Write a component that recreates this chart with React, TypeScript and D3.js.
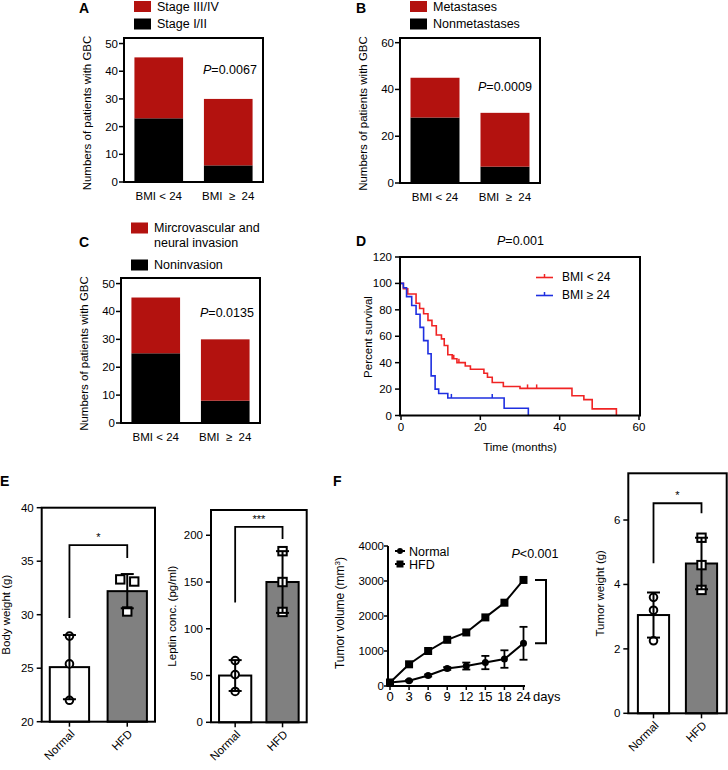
import React from 'react'
import * as d3 from 'd3'

const FONT = "'Liberation Sans', Arial, Helvetica, sans-serif"
const DARK_RED = '#b3120f'
const KM_RED = '#f02424'
const KM_BLUE = '#1e2fe0'

// A-C: patient counts by BMI group (stacked: lower = black, upper = red)
const bmiGroups = ['BMI < 24', 'BMI  \u2265  24']
const stageEarly = [23, 6]
const stageLate = [22, 24]
const nonMetastases = [28, 7]
const metastases = [17, 23]
const nonInvasion = [25, 8]
const invasion = [20, 22]

// D: Kaplan-Meier steps (months, percent survival)
const redTime = [0, 0.6, 1.7, 3.8, 4.7, 5.7, 6.8, 7.8, 8.9, 10.2, 10.9, 11.8, 12.9, 14.1, 16.2, 17.5, 20.9, 21.8, 23, 25.8, 30, 43.1, 46.1, 48.2, 54.3]
const redSurv = [100, 96, 92, 85, 81, 77, 72, 68, 61, 58, 53, 46, 43, 40, 37.5, 35, 32, 29, 25, 22, 20.5, 15, 12, 5, 0]
const redCensorTime = [13.3, 14.6, 31.9, 34.2]
const redCensorSurv = [43, 40, 20.5, 20.5]
const blueTime = [0, 0.6, 1.4, 2.7, 3.8, 4.8, 5.7, 6.8, 7.6, 8.6, 9.5, 11.8, 26, 32.1]
const blueSurv = [100, 96.7, 90, 83.3, 76.7, 66.7, 56.7, 46.7, 30, 20, 16.7, 13.3, 5.5, 0]
const blueCensorTime = [12.7, 23]
const blueCensorSurv = [13.3, 13.3]

// E, F right: bar + dots
const dietGroups = ['Normal', 'HFD']
const bodyWeightPts = [[28.0, 25.4, 22.0], [33.3, 33.1, 30.3]]
const bodyWeightMean = [25.1, 32.2]
const bodyWeightSd = [3.0, 1.6]
const leptinPts = [[66, 51, 33], [183, 150, 118]]
const leptinMean = [50, 150]
const leptinSd = [16.5, 33]
const tumorWeightPts = [[3.6, 3.2, 2.25], [5.45, 4.6, 3.83]]
const tumorWeightMean = [3.05, 4.65]
const tumorWeightSd = [0.7, 0.8]

// F left: tumor growth
const growthDays = ['0', '3', '6', '9', '12', '15', '18', '24']
const normalVolume = [100, 150, 300, 500, 570, 670, 770, 1220]
const normalVolumeSd = [0, 20, 30, 40, 100, 190, 250, 470]
const hfdVolume = [100, 620, 1000, 1320, 1530, 1960, 2380, 3030]

type Legend = { color: string; lines: string[]; top: number }

function PText({ x, y, rest, size = 12.5 }: { x: number; y: number; rest: string; size?: number }) {
  return (
    <text x={x} y={y} fontSize={size}>
      <tspan fontStyle="italic">P</tspan>
      {rest}
    </text>
  )
}

function YLabel({ x, y, children, size = 11.5 }: { x: number; y: number; children: React.ReactNode; size?: number }) {
  return (
    <text transform={`translate(${x},${y}) rotate(-90)`} textAnchor="middle" dy="0.35em" fontSize={size}>
      {children}
    </text>
  )
}

function StackPanel(p: {
  letter: string
  letterAt: [number, number]
  frame: [number, number, number, number]
  yMax: number
  yTicks: number[]
  lower: number[]
  upper: number[]
  legend: Legend[]
  pRest: string
  pAt: [number, number]
}) {
  const [x0, y0, x1, y1] = p.frame
  const x = d3.scaleBand<string>().domain(bmiGroups).range([x0, x1]).paddingInner(0.3).paddingOuter(0.15)
  const y = d3.scaleLinear().domain([0, p.yMax]).range([y1, y0])
  const rows = bmiGroups.map((g, i) => ({ g, lower: p.lower[i], upper: p.upper[i] }))
  const series = d3.stack<any>().keys(['lower', 'upper'])(rows)
  const colors = ['#000', DARK_RED]
  return (
    <g>
      <text x={p.letterAt[0]} y={p.letterAt[1]} fontWeight="bold" fontSize={14}>{p.letter}</text>
      {p.legend.map((l, i) => (
        <g key={i}>
          <rect x={x0 + 10} y={l.top} width={17} height={11} fill={l.color} />
          {l.lines.map((t, j) => (
            <text key={j} x={x0 + 33} y={l.top + 5.5 + j * 15} dy="0.35em" fontSize={12.5}>{t}</text>
          ))}
        </g>
      ))}
      {series.map((s, si) =>
        s.map((d, i) => (
          <rect key={`${si}-${i}`} x={x(bmiGroups[i])} y={y(d[1])} width={x.bandwidth()} height={y(d[0]) - y(d[1])} fill={colors[si]} />
        ))
      )}
      <rect x={x0} y={y0} width={x1 - x0} height={y1 - y0} fill="none" stroke="#000" strokeWidth={2} />
      {p.yTicks.map(t => (
        <g key={t}>
          <line x1={x0 - 5} x2={x0} y1={y(t)} y2={y(t)} stroke="#000" strokeWidth={1.5} />
          <text x={x0 - 6} y={y(t)} dy="0.35em" textAnchor="end" fontSize={11.5}>{t}</text>
        </g>
      ))}
      {bmiGroups.map(g => (
        <text key={g} x={x(g)! + x.bandwidth() / 2} y={y1 + 18} textAnchor="middle" fontSize={11.5} style={{ whiteSpace: 'pre' }}>{g}</text>
      ))}
      <YLabel x={x0 - 37} y={(y0 + y1) / 2 + 3}>Numbers of patients with GBC</YLabel>
      <PText x={p.pAt[0]} y={p.pAt[1]} rest={p.pRest} />
    </g>
  )
}

function SurvivalPanel() {
  const x = d3.scaleLinear().domain([0, 60]).range([401, 639])
  const y = d3.scaleLinear().domain([0, 120]).range([415.5, 257])
  const line = d3.line<[number, number]>().x(d => x(d[0])).y(d => y(d[1])).curve(d3.curveStepAfter)
  const red = redTime.map((t, i) => [t, redSurv[i]] as [number, number])
  const blue = blueTime.map((t, i) => [t, blueSurv[i]] as [number, number])
  const censor = (ts: number[], ss: number[], c: string) =>
    ts.map((t, i) => <line key={t} x1={x(t)} x2={x(t)} y1={y(ss[i])} y2={y(ss[i]) - 4} stroke={c} strokeWidth={1.5} />)
  return (
    <g>
      <text x={356} y={246} fontWeight="bold" fontSize={14}>D</text>
      <PText x={497} y={245} rest="=0.001" />
      <path d={line(red)!} fill="none" stroke={KM_RED} strokeWidth={1.6} />
      <path d={line(blue)!} fill="none" stroke={KM_BLUE} strokeWidth={1.6} />
      {censor(redCensorTime, redCensorSurv, KM_RED)}
      {censor(blueCensorTime, blueCensorSurv, KM_BLUE)}
      <rect x={400} y={257} width={240} height={158.5} fill="none" stroke="#000" strokeWidth={2} />
      {y.ticks(6).map(t => (
        <g key={t}>
          <line x1={395} x2={400} y1={y(t)} y2={y(t)} stroke="#000" strokeWidth={1.5} />
          <text x={392} y={y(t)} dy="0.35em" textAnchor="end" fontSize={11.5}>{t}</text>
        </g>
      ))}
      {[0, 20, 40, 60].map(t => (
        <g key={t}>
          <line x1={x(t)} x2={x(t)} y1={415.5} y2={420} stroke="#000" strokeWidth={1.5} />
          <text x={x(t)} y={431} textAnchor="middle" fontSize={11.5}>{t}</text>
        </g>
      ))}
      <text x={520} y={451} textAnchor="middle" fontSize={11.5}>Time (months)</text>
      <YLabel x={368} y={337}>Percent survival</YLabel>
      {[
        { c: KM_RED, t: 'BMI < 24', yy: 277.5 },
        { c: KM_BLUE, t: 'BMI \u2265 24', yy: 295.5 },
      ].map(l => (
        <g key={l.t}>
          <line x1={536} x2={553} y1={l.yy} y2={l.yy} stroke={l.c} strokeWidth={1.6} />
          <line x1={544.5} x2={544.5} y1={l.yy} y2={l.yy - 3.5} stroke={l.c} strokeWidth={1.5} />
          <text x={562} y={l.yy} dy="0.3em" fontSize={12}>{l.t}</text>
        </g>
      ))}
    </g>
  )
}

function dodge(vals: number[], py: (v: number) => number, minGap: number, spread: number) {
  const order = vals.map((_, i) => i).sort((a, b) => py(vals[a]) - py(vals[b]))
  const off = vals.map(() => 0)
  let group: number[] = []
  const flush = () => {
    group.forEach((k, j) => (off[k] = (j - (group.length - 1) / 2) * spread))
    group = []
  }
  order.forEach(k => {
    if (group.length && Math.abs(py(vals[k]) - py(vals[group[group.length - 1]])) >= minGap) flush()
    group.push(k)
  })
  flush()
  return off
}

function BarDotPanel(p: {
  frame: [number, number, number, number]
  yDomain: [number, number]
  yTicks: number[]
  means: number[]
  sds: number[]
  points: number[][]
  padInner: number
  padOuter: number
  bracket: [number, number, number]
  stars: string
  yLabel: React.ReactNode
  yLabelX: number
}) {
  const [x0, y0, x1, y1] = p.frame
  const x = d3.scaleBand<string>().domain(dietGroups).range([x0, x1]).paddingInner(p.padInner).paddingOuter(p.padOuter)
  const y = d3.scaleLinear().domain(p.yDomain).range([y1, y0])
  const cx = (g: string) => x(g)! + x.bandwidth() / 2
  const fills = ['#fff', '#808080']
  const [bl, bt, br] = p.bracket
  return (
    <g>
      {dietGroups.map((g, i) => (
        <rect key={g} x={x(g)} y={y(p.means[i])} width={x.bandwidth()} height={y1 - y(p.means[i])} fill={fills[i]} stroke="#000" strokeWidth={2} />
      ))}
      {dietGroups.map((g, i) => {
        const off = dodge(p.points[i], y, 8, 14)
        return p.points[i].map((v, j) =>
          i === 0 ? (
            <circle key={`${g}${j}`} cx={cx(g) + off[j]} cy={y(v)} r={3.8} fill="#fff" stroke="#000" strokeWidth={2} />
          ) : (
            <rect key={`${g}${j}`} x={cx(g) + off[j] - 4.2} y={y(v) - 4.2} width={8.4} height={8.4} fill="#fff" stroke="#000" strokeWidth={2} />
          )
        )
      })}
      {dietGroups.map((g, i) => {
        const hi = y(p.means[i] + p.sds[i])
        const lo = y(p.means[i] - p.sds[i])
        const c = cx(g)
        return (
          <g key={g} stroke="#000" strokeWidth={2}>
            <line x1={c} x2={c} y1={hi} y2={lo} />
            <line x1={c - 6.5} x2={c + 6.5} y1={hi} y2={hi} />
            <line x1={c - 6.5} x2={c + 6.5} y1={lo} y2={lo} />
          </g>
        )
      })}
      <path
        d={`M${cx(dietGroups[0])},${y(bl)}V${y(bt)}H${cx(dietGroups[1])}V${y(br)}`}
        fill="none"
        stroke="#000"
        strokeWidth={1.8}
      />
      <text x={(cx(dietGroups[0]) + cx(dietGroups[1])) / 2} y={y(bt) - 4} textAnchor="middle" fontSize={11}>{p.stars}</text>
      <rect x={x0} y={y0} width={x1 - x0} height={y1 - y0} fill="none" stroke="#000" strokeWidth={2} />
      {p.yTicks.map(t => (
        <g key={t}>
          <line x1={x0 - 5} x2={x0} y1={y(t)} y2={y(t)} stroke="#000" strokeWidth={1.5} />
          <text x={x0 - 8} y={y(t)} dy="0.35em" textAnchor="end" fontSize={11.5}>{t}</text>
        </g>
      ))}
      {dietGroups.map(g => (
        <g key={g}>
          <line x1={cx(g)} x2={cx(g)} y1={y1} y2={y1 + 5} stroke="#000" strokeWidth={1.5} />
          <text transform={`translate(${cx(g) + 3},${y1 + 10}) rotate(-45)`} textAnchor="end" dy="0.35em" fontSize={11.5}>{g}</text>
        </g>
      ))}
      <YLabel x={p.yLabelX} y={(y0 + y1) / 2}>{p.yLabel}</YLabel>
    </g>
  )
}

function GrowthPanel() {
  const x = d3.scalePoint<string>().domain(growthDays).range([390, 523.5])
  const y = d3.scaleLinear().domain([0, 4000]).range([686, 546])
  const line = d3.line<number>().x((_, i) => x(growthDays[i])!).y(d => y(d))
  return (
    <g>
      <path d={line(hfdVolume)!} fill="none" stroke="#000" strokeWidth={2} />
      <path d={line(normalVolume)!} fill="none" stroke="#000" strokeWidth={2} />
      {normalVolume.map((v, i) => {
        const c = x(growthDays[i])!
        const sd = normalVolumeSd[i]
        return sd > 0 ? (
          <g key={i} stroke="#000" strokeWidth={1.8}>
            <line x1={c} x2={c} y1={y(v + sd)} y2={y(v - sd)} />
            <line x1={c - 4} x2={c + 4} y1={y(v + sd)} y2={y(v + sd)} />
            <line x1={c - 4} x2={c + 4} y1={y(v - sd)} y2={y(v - sd)} />
          </g>
        ) : null
      })}
      {hfdVolume.map((v, i) => (
        <rect key={i} x={x(growthDays[i])! - 4} y={y(v) - 4} width={8} height={8} fill="#000" />
      ))}
      {normalVolume.map((v, i) => (
        <circle key={i} cx={x(growthDays[i])!} cy={y(v)} r={3.5} fill="#000" />
      ))}
      <line x1={388} x2={388} y1={546} y2={687} stroke="#000" strokeWidth={2} />
      <line x1={387} x2={525} y1={686} y2={686} stroke="#000" strokeWidth={2} />
      {y.ticks(4).map(t => (
        <g key={t}>
          <line x1={384} x2={388} y1={y(t)} y2={y(t)} stroke="#000" strokeWidth={1.5} />
          <text x={384} y={y(t)} dy="0.35em" textAnchor="end" fontSize={11.5}>{t}</text>
        </g>
      ))}
      {growthDays.map(d => (
        <g key={d}>
          <line x1={x(d)!} x2={x(d)!} y1={686} y2={690} stroke="#000" strokeWidth={1.5} />
          <text x={x(d)!} y={700.5} textAnchor="middle" fontSize={13}>{d}</text>
        </g>
      ))}
      <text x={533} y={700.5} fontSize={13}>days</text>
      <YLabel x={340} y={613} size={12}>
        Tumor volume (mm<tspan fontSize={8} dy={-4}>3</tspan><tspan dy={4}>)</tspan>
      </YLabel>
      <g>
        <line x1={395} x2={405} y1={551} y2={551} stroke="#000" strokeWidth={2} />
        <circle cx={400} cy={551} r={3} fill="#000" />
        <text x={409} y={555.5} fontSize={12.5}>Normal</text>
        <line x1={395} x2={405} y1={564} y2={564} stroke="#000" strokeWidth={2} />
        <rect x={396.5} y={560.5} width={7} height={7} fill="#000" />
        <text x={409} y={568.5} fontSize={12.5}>HFD</text>
      </g>
      <PText x={511.5} y={558} rest="<0.001" />
      <path d={`M535,${y(hfdVolume[7])}H546V${y(normalVolume[7])}H535`} fill="none" stroke="#000" strokeWidth={2} />
    </g>
  )
}

export default function App() {
  return (
    <svg
      width={728}
      height={770}
      viewBox="0 0 728 770"
      fontFamily={FONT}
      style={{ position: 'absolute', left: 0, top: 0, background: '#fff' }}
    >
      <rect width={728} height={770} fill="#fff" />
      <StackPanel
        letter="A"
        letterAt={[79, 13]}
        frame={[124, 38, 263, 182]}
        yMax={52}
        yTicks={[0, 10, 20, 30, 40, 50]}
        lower={stageEarly}
        upper={stageLate}
        legend={[
          { color: DARK_RED, lines: ['Stage III/IV'], top: 1 },
          { color: '#000', lines: ['Stage I/II'], top: 18.5 },
        ]}
        pRest="=0.0067"
        pAt={[203, 74]}
      />
      <StackPanel
        letter="B"
        letterAt={[356, 13]}
        frame={[400, 38, 540, 183]}
        yMax={62}
        yTicks={[0, 20, 40, 60]}
        lower={nonMetastases}
        upper={metastases}
        legend={[
          { color: DARK_RED, lines: ['Metastases'], top: 1 },
          { color: '#000', lines: ['Nonmetastases'], top: 18.5 },
        ]}
        pRest="=0.0009"
        pAt={[478, 91]}
      />
      <StackPanel
        letter="C"
        letterAt={[79, 247]}
        frame={[121, 278, 260, 423]}
        yMax={52}
        yTicks={[0, 10, 20, 30, 40, 50]}
        lower={nonInvasion}
        upper={invasion}
        legend={[
          { color: DARK_RED, lines: ['Mircrovascular and', 'neural invasion'], top: 222.5 },
          { color: '#000', lines: ['Noninvasion'], top: 259.5 },
        ]}
        pRest="=0.0135"
        pAt={[200, 317]}
      />
      <SurvivalPanel />
      <text x={0} y={486} fontWeight="bold" fontSize={14}>E</text>
      <BarDotPanel
        frame={[41.7, 507.7, 155, 721.7]}
        yDomain={[20, 40]}
        yTicks={[20, 25, 30, 35, 40]}
        means={bodyWeightMean}
        sds={bodyWeightSd}
        points={bodyWeightPts}
        padInner={0.32}
        padOuter={0.14}
        bracket={[29.7, 36.5, 35.3]}
        stars="*"
        yLabel="Body weight (g)"
        yLabelX={6}
      />
      <BarDotPanel
        frame={[211, 510, 306.7, 722.3]}
        yDomain={[0, 227]}
        yTicks={[0, 50, 100, 150, 200]}
        means={leptinMean}
        sds={leptinSd}
        points={leptinPts}
        padInner={0.32}
        padOuter={0.17}
        bracket={[128, 209, 196]}
        stars="***"
        yLabel="Leptin conc. (pg/ml)"
        yLabelX={172}
      />
      <text x={333} y={486} fontWeight="bold" fontSize={14}>F</text>
      <GrowthPanel />
      <BarDotPanel
        frame={[628.3, 473.3, 726.7, 713.3]}
        yDomain={[0, 7.45]}
        yTicks={[0, 2, 4, 6]}
        means={tumorWeightMean}
        sds={tumorWeightSd}
        points={tumorWeightPts}
        padInner={0.35}
        padOuter={0.2}
        bracket={[4.66, 6.52, 6.21]}
        stars="*"
        yLabel="Tumor weight (g)"
        yLabelX={600}
      />
    </svg>
  )
}
